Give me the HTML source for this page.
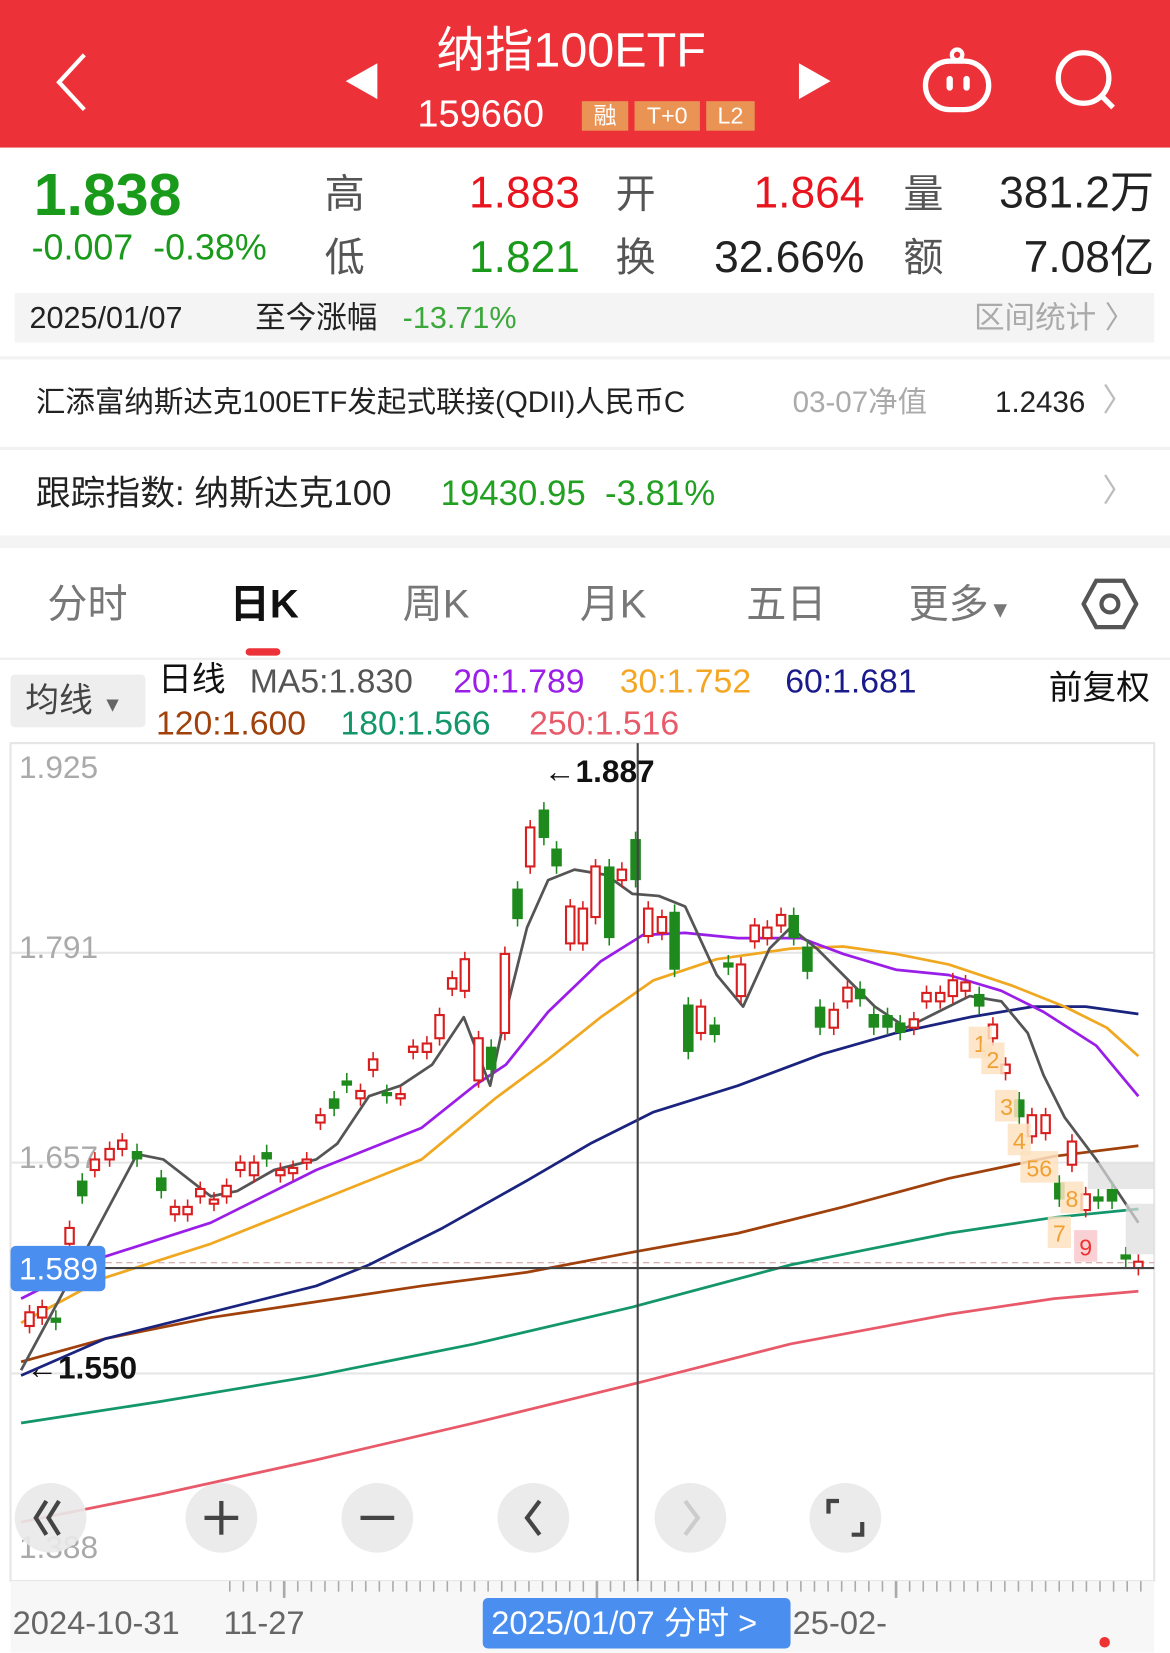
<!DOCTYPE html>
<html><head><meta charset="utf-8"><style>
html,body{margin:0;padding:0;width:1170px;height:1653px;overflow:hidden;background:#fff}
#w{position:absolute;left:0;top:0;width:1110px;height:1568px;transform:scale(1.054054);transform-origin:0 0;font-family:"Liberation Sans","Noto Sans CJK SC",sans-serif}
.a{position:absolute;white-space:nowrap;line-height:1}
.g{color:#1a9a1a}.r{color:#e8141e}.d{color:#222}.gr{color:#555}
</style></head><body><div id="w">
<div class="a" style="left:0;top:0;width:1110px;height:140px;background:#ec3238"></div>
<svg class="a" style="left:0;top:0" width="1110" height="140">
<polyline points="80,52 56,78 80,104" fill="none" stroke="#fff" stroke-width="4"/>
<polygon points="358,60 358,94 328,77" fill="#fff"/>
<polygon points="758,60 758,94 788,77" fill="#fff"/>
<circle cx="908" cy="52" r="5" fill="none" stroke="#fff" stroke-width="4"/>
<rect x="878" y="58" width="60" height="46" rx="23" fill="none" stroke="#fff" stroke-width="5"/>
<rect x="898" y="72" width="6" height="14" rx="3" fill="#fff"/><rect x="914" y="72" width="6" height="14" rx="3" fill="#fff"/>
<circle cx="1028" cy="74" r="24" fill="none" stroke="#fff" stroke-width="5"/>
<line x1="1045" y1="91" x2="1056" y2="102" stroke="#fff" stroke-width="5"/>
</svg>
<div class="a" style="left:414px;top:24px;font-size:46px;color:#fff">纳指100ETF</div>
<div class="a" style="left:396px;top:90px;font-size:36px;color:#fff">159660</div>
<div class="a" style="left:552px;top:96px;width:44px;height:28px;background:#e99454;color:#fff;font-size:22px;text-align:center;line-height:28px">融</div>
<div class="a" style="left:602px;top:96px;width:62px;height:28px;background:#e99454;color:#fff;font-size:22px;text-align:center;line-height:28px">T+0</div>
<div class="a" style="left:670px;top:96px;width:46px;height:28px;background:#e99454;color:#fff;font-size:22px;text-align:center;line-height:28px">L2</div>

<div class="a g" style="left:32px;top:157px;font-size:56px;font-weight:bold">1.838</div>
<div class="a g" style="left:30px;top:218px;font-size:34px">-0.007 &nbsp;-0.38%</div>
<div class="a gr" style="left:308px;top:166px;font-size:38px">高</div>
<div class="a gr" style="left:308px;top:226px;font-size:38px">低</div>
<div class="a r" style="left:445px;top:162px;font-size:42px;width:100px;text-align:right">1.883</div>
<div class="a g" style="left:445px;top:223px;font-size:42px;width:100px;text-align:right">1.821</div>
<div class="a gr" style="left:584px;top:166px;font-size:38px">开</div>
<div class="a gr" style="left:584px;top:226px;font-size:38px">换</div>
<div class="a r" style="left:680px;top:162px;font-size:42px;width:140px;text-align:right">1.864</div>
<div class="a d" style="left:660px;top:223px;font-size:42px;width:160px;text-align:right">32.66%</div>
<div class="a gr" style="left:857px;top:166px;font-size:38px">量</div>
<div class="a gr" style="left:857px;top:226px;font-size:38px">额</div>
<div class="a d" style="left:920px;top:162px;font-size:42px;width:175px;text-align:right">381.2万</div>
<div class="a d" style="left:920px;top:223px;font-size:42px;width:175px;text-align:right">7.08亿</div>

<div class="a" style="left:14px;top:278px;width:1081px;height:47px;background:#f4f4f4"></div>
<div class="a d" style="left:28px;top:288px;font-size:29px">2025/01/07</div>
<div class="a d" style="left:242px;top:288px;font-size:29px">至今涨幅</div>
<div class="a" style="left:382px;top:288px;font-size:29px;color:#3aa83a">-13.71%</div>
<div class="a" style="left:924px;top:288px;font-size:29px;color:#aaa">区间统计 〉</div>
<div class="a" style="left:0;top:338px;width:1110px;height:3px;background:#f2f2f2"></div>
<div class="a d" style="left:34px;top:368px;font-size:28px">汇添富纳斯达克100ETF发起式联接(QDII)人民币C</div>
<div class="a" style="left:752px;top:368px;font-size:28px;color:#aaa">03-07净值</div>
<div class="a d" style="left:944px;top:368px;font-size:28px">1.2436</div>
<div class="a" style="left:1046px;top:366px;font-size:30px;color:#bbb">〉</div>
<div class="a" style="left:0;top:424px;width:1110px;height:3px;background:#f2f2f2"></div>
<div class="a d" style="left:34px;top:451px;font-size:33px">跟踪指数: 纳斯达克100</div>
<div class="a" style="left:418px;top:451px;font-size:33px;color:#22a022">19430.95 &nbsp;-3.81%</div>
<div class="a" style="left:1046px;top:452px;font-size:30px;color:#bbb">〉</div>
<div class="a" style="left:0;top:508px;width:1110px;height:12px;background:#f4f4f4"></div>

<div class="a" style="left:45px;top:555px;font-size:38px;color:#777">分时</div>
<div class="a" style="left:218px;top:555px;font-size:38px;color:#111;font-weight:bold">日K</div>
<div class="a" style="left:382px;top:555px;font-size:38px;color:#777">周K</div>
<div class="a" style="left:550px;top:555px;font-size:38px;color:#777">月K</div>
<div class="a" style="left:708px;top:555px;font-size:38px;color:#777">五日</div>
<div class="a" style="left:862px;top:555px;font-size:38px;color:#777">更多<span style="font-size:22px">▼</span></div>
<svg class="a" style="left:1026px;top:548px" width="54" height="50"><polygon points="14,3 40,3 52,25 40,47 14,47 2,25" fill="none" stroke="#555" stroke-width="4"/><circle cx="27" cy="25" r="8" fill="none" stroke="#555" stroke-width="4"/></svg>
<div class="a" style="left:233px;top:615px;width:33px;height:7px;border-radius:4px;background:#ec3238"></div>
<div class="a" style="left:0;top:624px;width:1110px;height:2px;background:#eee"></div>

<div class="a" style="left:10px;top:640px;width:128px;height:50px;background:#eee;border-radius:4px"></div>
<div class="a" style="left:24px;top:648px;font-size:32px;color:#444">均线 <span style="font-size:20px;color:#666">▼</span></div>
<div class="a" style="left:150px;top:628px;font-size:32px;color:#111">日线</div>
<div class="a" style="left:237px;top:630px;font-size:32px;color:#555">MA5:1.830</div>
<div class="a" style="left:430px;top:630px;font-size:32px;color:#9a1ee8">20:1.789</div>
<div class="a" style="left:588px;top:630px;font-size:32px;color:#f5a623">30:1.752</div>
<div class="a" style="left:745px;top:630px;font-size:32px;color:#1a1a8c">60:1.681</div>
<div class="a" style="left:995px;top:636px;font-size:32px;color:#111">前复权</div>
<div class="a" style="left:148px;top:670px;font-size:32px;color:#a0400a">120:1.600</div>
<div class="a" style="left:323px;top:670px;font-size:32px;color:#13966b">180:1.566</div>
<div class="a" style="left:502px;top:670px;font-size:32px;color:#e85a6a">250:1.516</div>

<svg class="a" style="left:0;top:0" width="1110" height="1568" id="ch">
<rect x="10" y="705" width="1085" height="795" fill="none" stroke="#e6e6e6" stroke-width="2"/>
<g stroke="#e6e6e6" stroke-width="2"><line x1="10" y1="904" x2="1095" y2="904"/><line x1="10" y1="1103" x2="1095" y2="1103"/><line x1="10" y1="1303" x2="1095" y2="1303"/></g>
<g font-size="30" fill="#aaa" font-family="Liberation Sans,sans-serif"><text x="18" y="738">1.925</text><text x="18" y="909">1.791</text><text x="18" y="1108">1.657</text><text x="18" y="1478">1.388</text></g>
<line x1="10" y1="1198" x2="1095" y2="1198" stroke="#c99" stroke-dasharray="6,4"/>
<g fill="none" stroke-width="2.6" stroke-linejoin="round">
<polyline stroke="#e85a6a" points="20,1444 150,1418 300,1385 450,1350 605,1312 750,1275 900,1247 1000,1232 1080,1225"/>
<polyline stroke="#13966b" points="20,1350 150,1330 300,1305 450,1275 600,1240 750,1200 900,1170 1000,1155 1080,1147"/>
<polyline stroke="#a0400a" points="20,1292 100,1270 200,1250 300,1235 400,1220 500,1207 600,1188 700,1170 800,1145 900,1118 1000,1097 1080,1087"/>
<polyline stroke="#1a237e" points="20,1305 100,1270 200,1245 300,1220 350,1200 420,1165 500,1120 560,1085 620,1055 700,1030 780,1000 850,980 920,965 980,955 1030,955 1080,962"/>
<polyline stroke="#f0a820" points="20,1255 100,1212 200,1180 300,1140 400,1100 470,1042 520,1005 570,965 620,930 680,910 750,900 800,898 850,905 900,915 960,935 1010,955 1050,975 1080,1002"/>
<polyline stroke="#9b1ee8" points="20,1232 100,1192 200,1160 300,1110 400,1070 450,1030 480,1010 520,960 570,912 610,887 650,885 700,890 760,890 800,905 850,920 900,925 950,940 990,960 1040,992 1080,1040"/>
<polyline stroke="#555" points="20,1300 90,1170 130,1095 155,1100 200,1135 225,1130 260,1110 300,1100 320,1085 350,1040 380,1030 410,1010 440,965 465,1030 480,960 500,880 520,835 545,825 575,830 600,848 625,850 650,860 680,925 705,955 730,900 750,880 775,900 800,925 830,955 860,975 890,960 920,945 950,950 975,980 990,1020 1010,1060 1040,1100 1080,1160"/>
</g>
<g id="cd"></g>
<line x1="605" y1="705" x2="605" y2="1500" stroke="#444" stroke-width="2"/>
<line x1="10" y1="1203" x2="1095" y2="1203" stroke="#444" stroke-width="2"/>
<rect x="1032" y="1103" width="63" height="25" fill="#ddd" opacity=".7"/>
<rect x="1068" y="1142" width="27" height="48" fill="#ddd" opacity=".7"/>
<text x="516" y="742" font-size="30" font-weight="bold" fill="#111">←1.887</text>
<text x="25" y="1308" font-size="30" font-weight="bold" fill="#111">←1.550</text>
<rect x="10" y="1182" width="90" height="43" rx="5" fill="#4a8ff0"/>
<text x="18" y="1214" font-size="30" fill="#fff">1.589</text>
<g fill="#e9e9e9" opacity=".9"><ellipse cx="48" cy="1440" rx="34" ry="33"/><ellipse cx="210" cy="1440" rx="34" ry="33"/><ellipse cx="358" cy="1440" rx="34" ry="33"/><ellipse cx="506" cy="1440" rx="34" ry="33"/><ellipse cx="655" cy="1440" rx="34" ry="33"/><ellipse cx="802" cy="1440" rx="34" ry="33"/></g>
<g stroke="#444" stroke-width="4" fill="none">
<polyline points="44,1424 34,1440 44,1456"/><polyline points="56,1424 46,1440 56,1456"/>
<line x1="194" y1="1440" x2="226" y2="1440"/><line x1="210" y1="1424" x2="210" y2="1456"/>
<line x1="342" y1="1440" x2="374" y2="1440"/>
<polyline points="512,1424 500,1440 512,1456"/>
<polyline points="650,1424 662,1440 650,1456" stroke="#ccc"/>
<polyline points="786,1436 786,1424 796,1424"/><polyline points="818,1444 818,1456 808,1456"/></g>
<rect x="10" y="1500" width="1085" height="68" fill="#f7f7f7"/>
<g stroke="#aaa" stroke-width="1.5" id="tk"></g>
<text x="12" y="1550" font-size="31" fill="#666">2024-10-31</text>
<text x="212" y="1550" font-size="31" fill="#666">11-27</text>
<rect x="458" y="1516" width="292" height="48" rx="5" fill="#4a8ff0"/>
<text x="466" y="1550" font-size="31" fill="#fff">2025/01/07 分时 &gt;</text>
<text x="752" y="1550" font-size="31" fill="#666">25-02-</text>
<circle cx="1048" cy="1558" r="5" fill="#e33"/>
</svg>
</div>
<script>
var C=[[28,1245,1258,'r'],[40,1240,1250,'r'],[53,1250,1255,'g'],[66,1165,1180,'r'],[78,1120,1135,'g'],[90,1100,1110,'r'],[104,1090,1100,'r'],[116,1082,1090,'r'],[130,1092,1100,'g'],[153,1117,1130,'g'],[166,1145,1152,'r'],[178,1145,1152,'r'],[190,1128,1135,'r'],[203,1138,1142,'r'],[215,1125,1135,'r'],[228,1103,1110,'r'],[241,1103,1115,'r'],[253,1093,1100,'g'],[266,1110,1115,'r'],[278,1108,1113,'r'],[291,1100,1103,'r'],[304,1058,1065,'r'],[317,1042,1052,'g'],[329,1025,1030,'g'],[342,1035,1042,'r'],[354,1005,1015,'r'],[367,1036,1040,'g'],[380,1038,1042,'r'],[392,993,998,'r'],[405,990,998,'r'],[417,963,985,'r'],[429,928,938,'r'],[441,910,940,'r'],[454,985,1025,'r'],[466,993,1015,'g'],[479,905,980,'r'],[491,843,872,'g'],[503,785,822,'r'],[516,768,795,'g'],[528,805,822,'g'],[541,860,895,'r'],[553,862,895,'r'],[565,822,870,'r'],[578,822,890,'g'],[590,825,835,'r'],[603,796,835,'g'],[615,862,888,'r'],[628,870,885,'r'],[640,865,920,'g'],[653,953,998,'g'],[665,955,980,'r'],[678,972,982,'g'],[691,913,918,'g'],[703,915,945,'r'],[716,878,893,'r'],[728,880,890,'r'],[741,868,878,'r'],[753,868,890,'g'],[766,898,922,'g'],[778,955,975,'g'],[791,958,975,'r'],[804,937,950,'r'],[816,938,948,'g'],[829,962,975,'g'],[842,963,975,'g'],[854,970,980,'g'],[867,967,975,'r'],[879,942,950,'r'],[892,942,950,'r'],[904,930,945,'r'],[916,932,940,'r'],[929,943,955,'g'],[942,972,985,'r'],[954,1010,1018,'r'],[967,1043,1060,'g'],[979,1058,1078,'r'],[992,1058,1075,'r'],[1005,1122,1138,'g'],[1017,1083,1105,'r'],[1030,1133,1148,'r'],[1042,1135,1140,'g'],[1055,1128,1140,'g'],[1068,1190,1195,'g'],[1080,1197,1203,'r']];
var L=[[930,990,'1'],[942,1005,'2'],[955,1050,'3'],[967,1082,'4'],[986,1108,'56'],[1017,1137,'8'],[1005,1170,'7'],[1030,1183,'9']];
var s='';
C.forEach(function(c){var x=c[0],t=c[1],b=c[2],col=c[3]=='r'?'#d81e1e':'#1e8a1e';
s+='<line x1="'+x+'" y1="'+(t-7)+'" x2="'+x+'" y2="'+(b+7)+'" stroke="'+col+'" stroke-width="1.5"/>';
if(c[3]=='r')s+='<rect x="'+(x-4)+'" y="'+t+'" width="8" height="'+Math.max(b-t,2)+'" fill="#fff" stroke="'+col+'" stroke-width="2"/>';
else s+='<rect x="'+(x-5)+'" y="'+t+'" width="10" height="'+Math.max(b-t,2)+'" fill="'+col+'"/>';});
L.forEach(function(l){var w=l[2].length*14+8;s+='<rect x="'+(l[0]-w/2)+'" y="'+(l[1]-16)+'" width="'+w+'" height="30" fill="'+(l[2]=='9'?'#f8c8cc':'#fde2c0')+'" opacity=".85"/><text x="'+l[0]+'" y="'+(l[1]+8)+'" font-size="22" text-anchor="middle" fill="'+(l[2]=='9'?'#e33':'#f0a030')+'">'+l[2]+'</text>';});
document.getElementById('cd').innerHTML=s;
var t='';for(var x=218;x<1085;x+=12.9){var big=Math.abs(x-270)<6||Math.abs(x-562)<6||Math.abs(x-853)<6;t+='<line x1="'+x+'" y1="1500" x2="'+x+'" y2="'+(big?1516:1510)+'" stroke-width="'+(big?2.5:1.5)+'"/>';}
document.getElementById('tk').innerHTML=t;
</script>
</body></html>
